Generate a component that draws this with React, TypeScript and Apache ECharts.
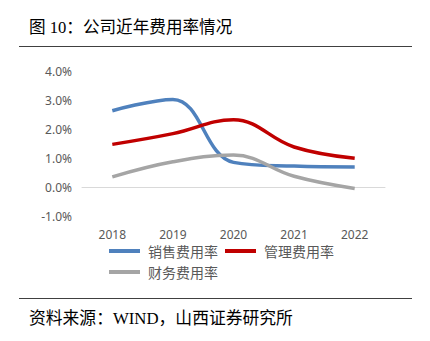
import React, { useEffect, useRef } from "react";
import * as echarts from "echarts";

const years = ["2018", "2019", "2020", "2021", "2022"];
const salesRate = [2.63, 3.02, 0.85, 0.72, 0.69];
const adminRate = [1.47, 1.84, 2.32, 1.38, 0.99];
const financeRate = [0.35, 0.87, 1.1, 0.37, -0.05];
const yTicks = { min: -1, max: 4, interval: 1 };

const titleText = "图 10：公司近年费用率情况";
const sourceText = "资料来源：WIND，山西证券研究所";

export default function App() {
  const ref = useRef<HTMLDivElement>(null);
  useEffect(() => {
    if (!ref.current) return;
    const chart = echarts.init(ref.current, null, { renderer: "svg" });
    const labelColor = "#595959";
    const serif = "Liberation Serif, Noto Sans CJK SC, serif";
    chart.setOption({
      animation: false,
      backgroundColor: "#ffffff",
      grid: { left: 82, right: 45, top: 71, bottom: 125, containLabel: false },
      xAxis: {
        type: "category",
        data: years,
        boundaryGap: true,
        axisLine: { show: true, onZero: true, lineStyle: { color: "#d9d9d9", width: 1 } },
        axisTick: { show: false },
        axisLabel: { color: labelColor, fontSize: 12, margin: 12, fontFamily: "Noto Sans, sans-serif" },
      },
      yAxis: {
        type: "value",
        min: yTicks.min,
        max: yTicks.max,
        interval: yTicks.interval,
        splitLine: { show: false },
        axisLine: { show: false },
        axisTick: { show: false },
        axisLabel: {
          color: labelColor,
          fontSize: 12,
          margin: 10,
          fontFamily: "Noto Sans, sans-serif",
          formatter: (v: number) => v.toFixed(1) + "%",
        },
      },
      legend: [
        {
          data: ["销售费用率", "管理费用率"],
          left: 104,
          top: 239,
          icon: "rect",
          itemWidth: 31,
          itemHeight: 4,
          itemGap: 7,
          textStyle: { color: labelColor, fontSize: 14, fontFamily: "Noto Sans CJK SC, sans-serif", padding: [0, 0, 0, 3] },
        },
        {
          data: ["财务费用率"],
          left: 104,
          top: 260,
          icon: "rect",
          itemWidth: 31,
          itemHeight: 4,
          textStyle: { color: labelColor, fontSize: 14, fontFamily: "Noto Sans CJK SC, sans-serif", padding: [0, 0, 0, 3] },
        },
      ],
      series: [
        {
          name: "销售费用率",
          type: "line",
          data: salesRate,
          smooth: 0.4,
          showSymbol: false,
          color: "#4f81bd",
          lineStyle: { width: 3.5, color: "#4f81bd" },
        },
        {
          name: "管理费用率",
          type: "line",
          data: adminRate,
          smooth: 0.4,
          showSymbol: false,
          color: "#c00000",
          lineStyle: { width: 3.5, color: "#c00000" },
        },
        {
          name: "财务费用率",
          type: "line",
          data: financeRate,
          smooth: 0.4,
          showSymbol: false,
          color: "#a5a5a5",
          lineStyle: { width: 3.5, color: "#a5a5a5" },
        },
      ],
      graphic: [
        {
          type: "text",
          left: 29,
          top: 19,
          style: { text: titleText, fontSize: 16.6, fill: "#000000", fontFamily: serif },
        },
        {
          type: "line",
          shape: { x1: 19, y1: 46.5, x2: 412, y2: 46.5 },
          style: { stroke: "#404040", lineWidth: 1 },
        },
        {
          type: "line",
          shape: { x1: 19, y1: 298.5, x2: 412, y2: 298.5 },
          style: { stroke: "#404040", lineWidth: 1 },
        },
        {
          type: "text",
          left: 29,
          top: 310,
          style: { text: sourceText, fontSize: 16.8, fill: "#000000", fontFamily: serif },
        },
      ],
    });
    return () => chart.dispose();
  }, []);
  return (
    <div
      ref={ref}
      style={{ position: "fixed", left: 0, top: 0, width: 430, height: 341, background: "#fff" }}
    />
  );
}
